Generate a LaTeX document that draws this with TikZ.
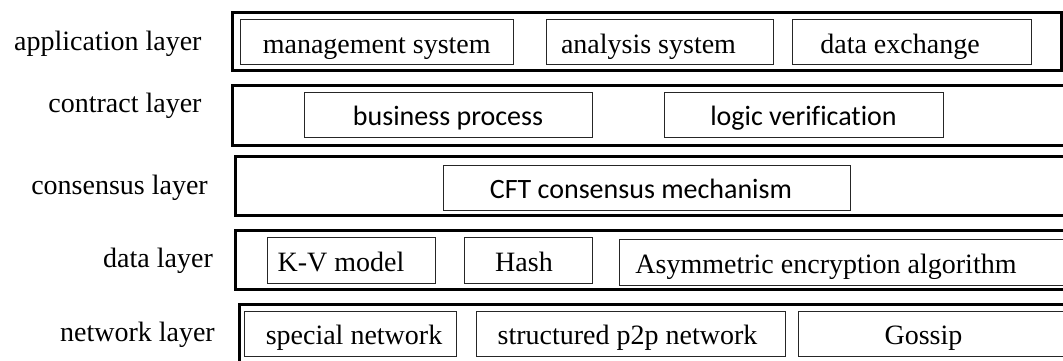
\documentclass[tikz,border=0pt]{standalone}
\usepackage{fontspec}
\setmainfont{Liberation Serif}
\newfontfamily\calfont[Ligatures=NoCommon]{Carlito}
\begin{document}
\begin{tikzpicture}[x=1pt,y=-1pt,
  layerbox/.style={draw, line width=3pt, inner sep=0pt, minimum width=#1},
  itembox/.style={draw=black!85, line width=1pt, inner sep=0pt, minimum height=45pt, minimum width=#1},
  txt/.style={anchor=base, inner sep=0pt, font=\fontsize{28}{33}\selectfont},
  stxt/.style={anchor=base, inner sep=0pt, font=\calfont\fontsize{28}{33}\selectfont},
  lbl/.style={anchor=base east, inner sep=0pt, font=\fontsize{28}{33}\selectfont}]
\useasboundingbox (0,0) rectangle (1063,361);
\clip (0,0) rectangle (1063,361);
% layer frames
\node[layerbox=828.5, minimum height=58.5pt] (appL) at (646.75,41.75) {};
\node[layerbox=842.5, minimum height=59.5pt] (conL) at (653.75,115.25) {};
\node[layerbox=840, minimum height=58.5pt] (cnsL) at (655,185.75) {};
\node[layerbox=840, minimum height=59pt] (datL) at (655,259.5) {};
\node[layerbox=836, minimum height=75.5pt] (netL) at (657,342.25) {};
% layer labels
\node[lbl] (appT) at (201.7,51) {application layer};
\node[lbl] (conT) at (201.7,112.5) {contract layer};
\node[lbl] (cnsT) at (208,194) {consensus layer};
\node[lbl] (datT) at (213,267.5) {data layer};
\node[lbl] (netT) at (215,341) {network layer};
% application layer items
\node[itembox=272.5] (mgmt) at (376.75,42.5) {};
\node[itembox=227] (anal) at (659.5,42.5) {};
\node[itembox=239] (exch) at (911.5,42.5) {};
\node[txt] (mgmtT) at ([yshift=-11pt]mgmt.center) {management system};
\node[txt] (analT) at ([xshift=-11pt,yshift=-11pt]anal.center) {analysis system};
\node[txt] (exchT) at ([xshift=-11.5pt,yshift=-11pt]exch.center) {data exchange};
% contract layer items
\node[itembox=288] (bus) at (448,114.5) {};
\node[itembox=279] (logic) at (803.5,114.5) {};
\node[stxt] (busT) at ([yshift=-11pt]bus.center) {business process};
\node[stxt] (logicT) at ([yshift=-11pt]logic.center) {logic verification};
% consensus layer item
\node[itembox=407] (cft) at (646.5,187.5) {};
\node[stxt] (cftT) at ([xshift=-5.5pt,yshift=-11pt]cft.center) {CFT consensus mechanism};
% data layer items
\node[itembox=168, minimum height=46pt] (kv) at (351,260) {};
\node[itembox=128, minimum height=46pt] (hash) at (528,260) {};
\node[itembox=461, minimum height=46pt] (asym) at (849.5,262) {};
\node[txt] (kvT) at ([xshift=-10pt,yshift=-11pt]kv.center) {K-V model};
\node[txt] (hashT) at ([xshift=-4pt,yshift=-11pt]hash.center) {Hash};
\node[txt] (asymT) at ([xshift=-23.5pt,yshift=-11pt]asym.center) {Asymmetric encryption algorithm};
% network layer items
\node[itembox=212] (spec) at (350,333.5) {};
\node[itembox=309] (struc) at (630.5,333.5) {};
\node[itembox=282] (goss) at (939,333.5) {};
\node[txt] (specT) at ([xshift=4pt,yshift=-11pt]spec.center) {special network};
\node[txt] (strucT) at ([xshift=-3pt,yshift=-11pt]struc.center) {structured p2p network};
\node[txt] (gossT) at ([xshift=-15.5pt,yshift=-11pt]goss.center) {Gossip};
\end{tikzpicture}
\end{document}
